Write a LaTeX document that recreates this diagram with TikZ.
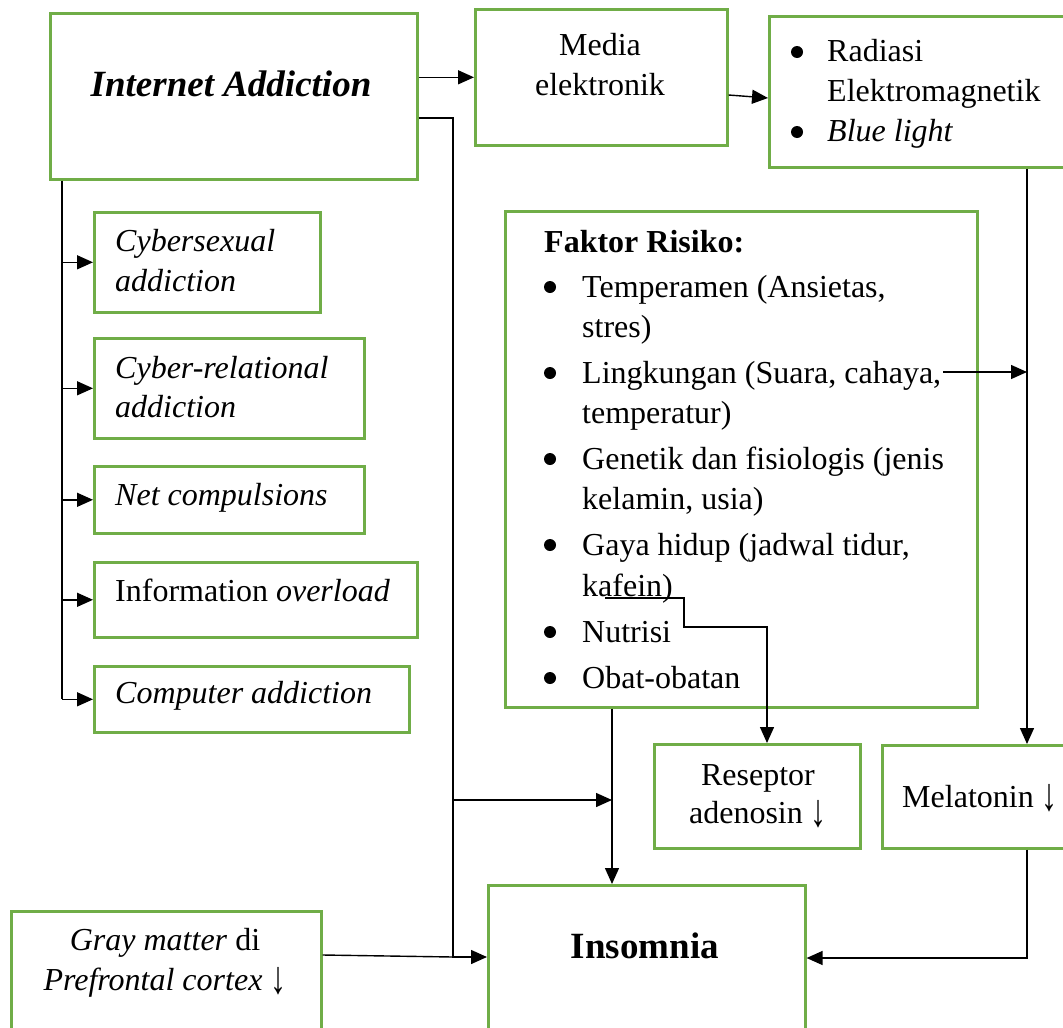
\documentclass[tikz,border=0pt]{standalone}
\usepackage{fontspec}
\setmainfont{Liberation Serif}
\usetikzlibrary{arrows.meta,calc}
\definecolor{boxgreen}{HTML}{70AD47}
\tikzset{
 gbox/.style={draw=boxgreen, line width=2.6pt, anchor=north west, inner sep=0pt},
 txt/.style={anchor=base west, inner sep=0pt, font=\fontsize{32}{38}\selectfont},
 ctxt/.style={anchor=base, inner sep=0pt, font=\fontsize{32}{38}\selectfont},
 conn/.style={line width=1.4pt, -{Triangle[length=16pt,width=14pt]}},
 plainline/.style={line width=1.4pt},
}
\newcommand{\bul}[2]{\fill (#1,#2) circle (6pt);}
\newcommand{\dnarr}{\raisebox{-0.12em}{\scalebox{1}[1.45]{↓}}}
\begin{document}
\begin{tikzpicture}[x=1pt,y=-1pt]
\useasboundingbox (0,0) rectangle (1063,1028);
\begin{scope}
\clip (0,0) rectangle (1063,1028);
% boxes
\node[gbox, minimum width=367pt, minimum height=166pt] (IA) at (49,12) {};
\node[gbox, minimum width=252pt, minimum height=136pt] (Med) at (474,8) {};
\node[gbox, minimum width=310pt, minimum height=151pt] (Rad) at (768,15) {};
\node[gbox, minimum width=472pt, minimum height=496pt] (Fak) at (504,210) {};
\node[gbox, minimum width=226pt, minimum height=100pt] (Cyb) at (93,211) {};
\node[gbox, minimum width=270pt, minimum height=100pt] (CybRel) at (93,337) {};
\node[gbox, minimum width=270pt, minimum height=67pt] (Net) at (93,465) {};
\node[gbox, minimum width=323pt, minimum height=75pt] (Info) at (93,561) {};
\node[gbox, minimum width=315pt, minimum height=66pt] (Comp) at (93,665) {};
\node[gbox, minimum width=206pt, minimum height=104pt] (Res) at (653,743) {};
\node[gbox, minimum width=200pt, minimum height=103pt] (Mel) at (881,744) {};
\node[gbox, minimum width=317pt, minimum height=160pt] (Ins) at (487,884) {};
\node[gbox, minimum width=310pt, minimum height=135pt] (Gray) at (10,910) {};
\end{scope}

% texts
\node[ctxt, font=\fontsize{37}{44}\selectfont\bfseries\itshape] (tIA) at (231,96) {Internet Addiction};
\node[ctxt] (tMed1) at (600,55) {Media};
\node[ctxt] (tMed2) at (600,95) {elektronik};

\bul{797}{52}
\bul{797}{132}
\node[txt] (tRad1) at (827,61) {Radiasi};
\node[txt] (tRad2) at (827,101) {Elektromagnetik};
\node[txt] (tRad3) at (827,141) {\itshape Blue light};

\node[txt] (tFak0) at (544,252) {\bfseries Faktor Risiko:};
\bul{550}{287}\bul{550}{373}\bul{550}{459}\bul{550}{545}\bul{550}{632}\bul{550}{678}
\node[txt] (tFak1) at (582,297) {Temperamen (Ansietas,};
\node[txt] (tFak2) at (582,337) {stres)};
\node[txt] (tFak3) at (582,383) {Lingkungan (Suara, cahaya,};
\node[txt] (tFak4) at (582,423) {temperatur)};
\node[txt] (tFak5) at (582,469) {Genetik dan fisiologis (jenis};
\node[txt] (tFak6) at (582,509) {kelamin, usia)};
\node[txt] (tFak7) at (582,555) {Gaya hidup (jadwal tidur,};
\node[txt] (tFak8) at (582,596) {kafein)};
\node[txt] (tFak9) at (582,642) {Nutrisi};
\node[txt] (tFak10) at (582,688) {Obat-obatan};

\node[txt] (tCyb1) at (115,251) {\itshape Cybersexual};
\node[txt] (tCyb2) at (115,291) {\itshape addiction};
\node[txt] (tCR1) at (115,378) {\itshape Cyber-relational};
\node[txt] (tCR2) at (115,417) {\itshape addiction};
\node[txt] (tNet) at (115,505) {\itshape Net compulsions};
\node[txt] (tInfo) at (115,601) {Information \textit{overload}};
\node[txt] (tComp) at (115,703) {\itshape Computer addiction};

\node[ctxt] (tRes1) at (758,785) {Reseptor};
\node[ctxt] (tRes2) at (758,823) {adenosin \dnarr};
\node[ctxt] (tMel) at (980,807) {Melatonin \dnarr};
\node[ctxt, font=\fontsize{37}{44}\selectfont\bfseries] (tIns) at (645,958) {Insomnia};
\node[ctxt] (tGray1) at (165,950) {\textit{Gray matter} di};
\node[ctxt] (tGray2) at (165,990) {\textit{Prefrontal cortex} \dnarr};

% coordinates
\coordinate (lt) at ($(IA.south west)+(13,0)$);
\coordinate (jx) at (453,957);
\coordinate (bx) at (453,800);
\coordinate (fx) at ($(Fak.south west)+(108,0)$);
\coordinate (kf) at (605,598);
\coordinate (rx) at ($(Rad.south west)+(259,0)$);
\coordinate (lk) at (943,372);

% connectors
\draw[conn] (IA.east |- Med.west) -- (Med.west);
\draw[conn] ($(Med.north east)+(0,87)$) -- ($(Rad.north west)+(0,83)$);
\draw[conn] ($(IA.north east)+(0,106)$) -| (jx) -- (Ins.west |- jx);
\draw[plainline] ($(Gray.north east)+(0,45)$) -- (jx);
\draw[conn] (bx) -- (fx |- bx);
\draw[conn] (fx) -- (fx |- Ins.north);
\draw[conn] (kf) -- (684,598) -- (684,627) -- (767,627) -- (767,743);
\draw[conn] (rx) -- (rx |- Mel.north);
\draw[conn] (lk) -- (rx |- lk);
\draw[conn] (rx |- Mel.south) |- ($(Ins.north east)+(0,74)$);
\draw[plainline] (lt) -- (lt |- Comp.west);
\draw[conn] (lt |- Cyb.west) -- (Cyb.west);
\draw[conn] (lt |- CybRel.west) -- (CybRel.west);
\draw[conn] (lt |- Net.west) -- (Net.west);
\draw[conn] (lt |- Info.west) -- (Info.west);
\draw[conn] (lt |- Comp.west) -- (Comp.west);
\end{tikzpicture}
\end{document}
